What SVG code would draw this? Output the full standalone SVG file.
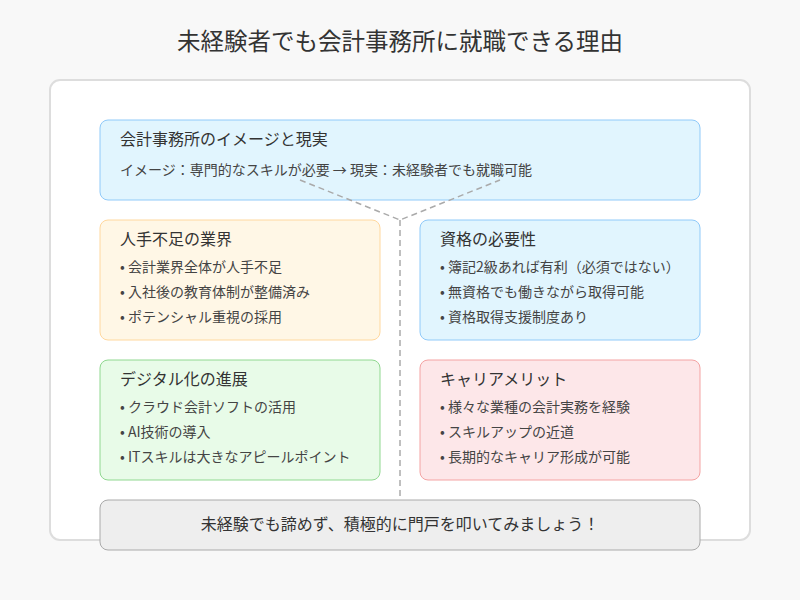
<svg xmlns="http://www.w3.org/2000/svg" width="800" height="600" viewBox="0 0 800 600">
<style>
text{font-family:"Noto Sans CJK JP","Noto Sans",sans-serif;fill:#333}
.h{font-size:16px}
.t{font-size:14px;fill:#444}
.c{stroke:#aaa;stroke-width:1.5;stroke-dasharray:6,4;fill:none}
</style>
<rect width="800" height="600" fill="#f8f8f8"/>
<text x="400" y="50" text-anchor="middle" font-size="23.5">未経験者でも会計事務所に就職できる理由</text>
<rect x="50" y="80" width="700" height="460" rx="10" fill="#fff" stroke="#ddd" stroke-width="2"/>
<g id="top"><rect x="100" y="120" width="600" height="80" rx="8" fill="#e1f5fe" stroke="#90caf9"/>
<text class="h" x="120" y="145">会計事務所のイメージと現実</text>
<text class="t" x="120" y="175">イメージ：専門的なスキルが必要 → 現実：未経験者でも就職可能</text></g>
<g id="n1"><rect x="100" y="220" width="280" height="120" rx="8" fill="#fff7e6" stroke="#ffd89e"/>
<text class="h" x="120" y="245">人手不足の業界</text>
<text class="t" x="120" y="272">• 会計業界全体が人手不足</text>
<text class="t" x="120" y="297">• 入社後の教育体制が整備済み</text>
<text class="t" x="120" y="322">• ポテンシャル重視の採用</text></g>
<g id="n2"><rect x="420" y="220" width="280" height="120" rx="8" fill="#e1f5fe" stroke="#90caf9"/>
<text class="h" x="440" y="245">資格の必要性</text>
<text class="t" x="440" y="272">• 簿記2級あれば有利（必須ではない）</text>
<text class="t" x="440" y="297">• 無資格でも働きながら取得可能</text>
<text class="t" x="440" y="322">• 資格取得支援制度あり</text></g>
<g id="n3"><rect x="100" y="360" width="280" height="120" rx="8" fill="#e8fbe8" stroke="#90d890"/>
<text class="h" x="120" y="385">デジタル化の進展</text>
<text class="t" x="120" y="412">• クラウド会計ソフトの活用</text>
<text class="t" x="120" y="437">• AI技術の導入</text>
<text class="t" x="120" y="462">• ITスキルは大きなアピールポイント</text></g>
<g id="n4"><rect x="420" y="360" width="280" height="120" rx="8" fill="#fde7e9" stroke="#f4a3a3"/>
<text class="h" x="440" y="385">キャリアメリット</text>
<text class="t" x="440" y="412">• 様々な業種の会計実務を経験</text>
<text class="t" x="440" y="437">• スキルアップの近道</text>
<text class="t" x="440" y="462">• 長期的なキャリア形成が可能</text></g>
<g id="connectors">
<path class="c" d="M300 180 L400 220 L500 180 M400 220 V500"/>
</g>
<g id="bottom"><rect x="100" y="500" width="600" height="50" rx="8" fill="#eee" stroke="#aaa"/>
<text x="400" y="530" text-anchor="middle" font-size="16">未経験でも諦めず、積極的に門戸を叩いてみましょう！</text></g>
</svg>
